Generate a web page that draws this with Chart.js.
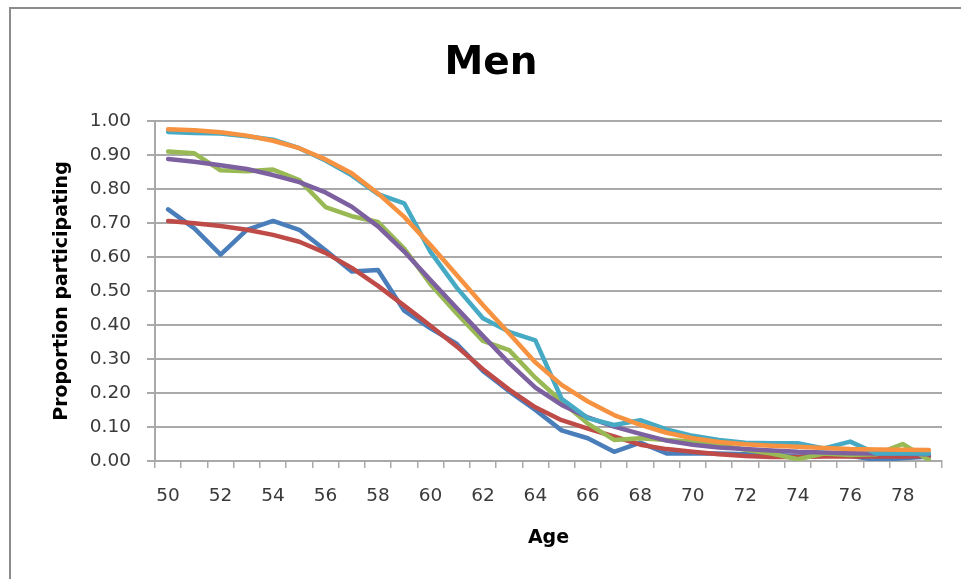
<!DOCTYPE html>
<html>
<head>
<meta charset="utf-8">
<script src="https://cdn.jsdelivr.net/npm/chart.js@4.4.1/dist/chart.umd.min.js"></script>
<style>
  html, body { margin: 0; padding: 0; background: #fff; overflow: hidden; }
  #wrap { position: relative; width: 961px; height: 579px; overflow: hidden; }
  #frame { position: absolute; left: 9px; top: 7px; width: 1000px; height: 1000px;
           border-left: 2px solid #8c8c8c; border-top: 2px solid #8c8c8c; }
  #myChart { position: absolute; left: 0; top: 0; }
</style>
</head>
<body>
<div id="wrap">
  <div id="frame"></div>
  <canvas id="myChart" width="972" height="579"></canvas>
</div>
<script>
// Ages (x categories)
const ages = [50, 51, 52, 53, 54, 55, 56, 57, 58, 59, 60, 61, 62, 63, 64,
              65, 66, 67, 68, 69, 70, 71, 72, 73, 74, 75, 76, 77, 78, 79];

// y axis ticks 0.00 .. 1.00
const yTicks = [0, 0.1, 0.2, 0.3, 0.4, 0.5, 0.6, 0.7, 0.8, 0.9, 1.0];

// series
const blueSeries = [0.740, 0.684, 0.607, 0.680, 0.706, 0.680, 0.620, 0.557, 0.562, 0.442,
                    0.390, 0.345, 0.265, 0.205, 0.150, 0.090, 0.067, 0.027, 0.054, 0.022,
                    0.022, 0.022, 0.020, 0.020, 0.013, 0.018, 0.015, 0.003, 0.008, 0.013];
const redSeries = [0.706, 0.699, 0.691, 0.680, 0.665, 0.645, 0.612, 0.568, 0.515, 0.457,
                   0.398, 0.337, 0.270, 0.210, 0.158, 0.120, 0.095, 0.072, 0.048, 0.035,
                   0.027, 0.020, 0.015, 0.012, 0.012, 0.013, 0.013, 0.013, 0.013, 0.015];
const greenSeries = [0.910, 0.905, 0.855, 0.852, 0.857, 0.826, 0.747, 0.720, 0.703, 0.625,
                     0.520, 0.434, 0.353, 0.326, 0.245, 0.175, 0.110, 0.062, 0.067, 0.062,
                     0.057, 0.047, 0.033, 0.022, 0.005, 0.022, 0.018, 0.020, 0.050, 0.003];
const purpleSeries = [0.888, 0.880, 0.870, 0.859, 0.841, 0.820, 0.790, 0.748, 0.690, 0.616,
                      0.532, 0.450, 0.368, 0.288, 0.216, 0.165, 0.128, 0.101, 0.080, 0.060,
                      0.048, 0.040, 0.035, 0.031, 0.027, 0.025, 0.023, 0.022, 0.021, 0.020];
const tealSeries = [0.968, 0.965, 0.963, 0.955, 0.945, 0.920, 0.884, 0.840, 0.785, 0.758,
                    0.615, 0.510, 0.420, 0.380, 0.355, 0.183, 0.126, 0.106, 0.120, 0.093,
                    0.074, 0.062, 0.054, 0.052, 0.052, 0.037, 0.057, 0.022, 0.022, 0.022];
const orangeSeries = [0.976, 0.973, 0.967, 0.957, 0.942, 0.920, 0.887, 0.846, 0.787, 0.718,
                      0.635, 0.547, 0.459, 0.375, 0.290, 0.224, 0.175, 0.135, 0.106, 0.083,
                      0.067, 0.056, 0.049, 0.045, 0.042, 0.038, 0.035, 0.034, 0.033, 0.032];

const gridColor = '#a9a9a9';
const textColor = '#3a3a3a';

function line(label, data, color, order) {
  return {
    label: label,
    data: data,
    borderColor: color,
    backgroundColor: color,
    borderWidth: 4.5,
    pointRadius: 0,
    tension: 0,
    borderJoinStyle: 'round',
    borderCapStyle: 'round',
    fill: false,
    order: order
  };
}

const ctx = document.getElementById('myChart').getContext('2d');
new Chart(ctx, {
  type: 'line',
  data: {
    labels: ages,
    datasets: [
      line('Series1', blueSeries, '#4a7ebb', 5),
      line('Series2', redSeries, '#be4b48', 4),
      line('Series3', greenSeries, '#98b954', 3),
      line('Series4', purpleSeries, '#7d60a0', 2),
      line('Series5', tealSeries, '#46aac5', 1),
      line('Series6', orangeSeries, '#f69240', 0)
    ]
  },
  options: {
    responsive: false,
    animation: false,
    devicePixelRatio: 1,
    layout: { padding: { left: 10, right: 0, top: 0, bottom: 0 } },
    plugins: {
      legend: { display: false },
      tooltip: { enabled: false },
      title: {
        display: true,
        text: 'Men',
        color: '#000',
        font: { family: 'DejaVu Sans', size: 39, weight: 'bold' },
        padding: { top: 40, bottom: 34.2 }
      }
    },
    scales: {
      x: {
        type: 'category',
        offset: true,
        grid: { offset: true, drawOnChartArea: false, drawTicks: true, tickLength: 7,
                color: gridColor, lineWidth: 1.5 },
        border: { display: true, color: gridColor, width: 2 },
        ticks: {
          autoSkip: false, maxRotation: 0, padding: 17, color: textColor,
          font: { family: 'DejaVu Sans', size: 18.5 },
          callback: (v, i) => (i % 2 === 0 ? String(ages[i]) : '')
        },
        title: { display: true, text: 'Age', color: '#000',
                 font: { family: 'DejaVu Sans', size: 19, weight: 'bold' },
                 padding: { top: 0, bottom: 29.6 } },
        afterFit: s => { s.height = 118; }
      },
      y: {
        min: 0, max: 1,
        afterBuildTicks: s => { s.ticks = yTicks.map(v => ({ value: v })); },
        grid: { color: gridColor, lineWidth: 2, tickLength: 8, drawTicks: true },
        border: { display: true, color: gridColor, width: 2 },
        ticks: { padding: 16, color: textColor,
                 font: { family: 'DejaVu Sans', size: 18.5 },
                 callback: v => Number(v).toFixed(2) },
        title: { display: true, text: 'Proportion participating', color: '#000',
                 font: { family: 'DejaVu Sans', size: 19, weight: 'bold' },
                 padding: { top: 40.6, bottom: 0 } },
        afterFit: s => { s.width = 145; }
      },
      y2: {
        position: 'right',
        display: true,
        grid: { display: false, drawTicks: false },
        border: { display: false },
        ticks: { display: false },
        afterFit: s => { s.width = 30; }
      }
    }
  }
});
</script>
</body>
</html>
